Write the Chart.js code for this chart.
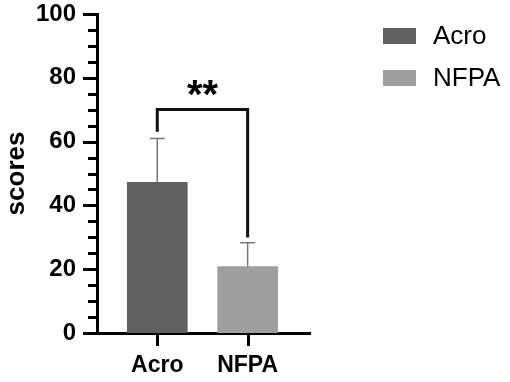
<!DOCTYPE html>
<html>
<head>
<meta charset="utf-8">
<script src="https://cdn.jsdelivr.net/npm/chart.js@4.4.0/dist/chart.umd.min.js"></script>
<style>
  html, body { margin: 0; padding: 0; background: #fff; }
</style>
</head>
<body>
<canvas id="chart" width="510" height="382"></canvas>
<script>
// groups, means and the upper SD
const categories = ['Acro', 'NFPA'];
const means = [47.2, 20.8];
const errors = [13.8, 7.5];
const barColors = ['#606060', '#9e9ea0'];
const yMajor = [0, 20, 40, 60, 80, 100];
const yMinorStep = 5;

// significance bracket between the two groups
const sigLabel = '**';
const sigTop = 70.1;
const sigLegEnds = [63.1, 29.9];

const FONT = '"Liberation Sans", Arial, sans-serif';
const X_MIN = 0.333, X_MAX = 2.69;

// error bars, bracket, tick marks and legend
const decor = {
  id: 'decor',
  afterDatasetsDraw(chart) {
    const ctx = chart.ctx;
    const xs = chart.scales.x, ys = chart.scales.y;
    ctx.save();

    // error bars (upper only)
    ctx.strokeStyle = '#777';
    ctx.lineWidth = 1.5;
    categories.forEach((c, i) => {
      const x = xs.getPixelForValue(i + 1);
      const y0 = ys.getPixelForValue(means[i]);
      const y1 = ys.getPixelForValue(means[i] + errors[i]);
      ctx.beginPath();
      ctx.moveTo(x, y0);
      ctx.lineTo(x, y1);
      ctx.moveTo(x - 7.5, y1);
      ctx.lineTo(x + 7.5, y1);
      ctx.stroke();
    });

    // bracket
    const xa = xs.getPixelForValue(1), xb = xs.getPixelForValue(2);
    const yt = ys.getPixelForValue(sigTop);
    ctx.strokeStyle = '#111';
    ctx.lineWidth = 3;
    ctx.lineJoin = 'miter';
    ctx.beginPath();
    ctx.moveTo(xa, ys.getPixelForValue(sigLegEnds[0]));
    ctx.lineTo(xa, yt);
    ctx.lineTo(xb, yt);
    ctx.lineTo(xb, ys.getPixelForValue(sigLegEnds[1]));
    ctx.stroke();

    ctx.fillStyle = '#000';
    ctx.font = 'bold 40px ' + FONT;
    ctx.textAlign = 'center';
    ctx.textBaseline = 'alphabetic';
    ctx.fillText(sigLabel, (xa + xb) / 2, yt - 1);
    ctx.restore();
  },
  afterDraw(chart) {
    const ctx = chart.ctx;
    const xs = chart.scales.x, ys = chart.scales.y;
    const left = chart.chartArea.left, bottom = chart.chartArea.bottom;
    ctx.save();
    ctx.strokeStyle = '#000';
    ctx.lineWidth = 3;
    ctx.beginPath();
    for (let v = 0; v <= 100; v += yMinorStep) {
      const y = Math.round(ys.getPixelForValue(v)) + 0.5;
      const len = yMajor.includes(v) ? 14 : 9;
      ctx.moveTo(left - len, y);
      ctx.lineTo(left, y);
    }
    categories.forEach((c, i) => {
      const x = Math.round(xs.getPixelForValue(i + 1)) + 0.5;
      ctx.moveTo(x, bottom);
      ctx.lineTo(x, bottom + 13);
    });
    ctx.stroke();

    // legend
    ctx.font = '26px ' + FONT;
    ctx.textAlign = 'left';
    ctx.textBaseline = 'middle';
    categories.forEach((c, i) => {
      const y = 28 + i * 42;
      ctx.fillStyle = barColors[i];
      ctx.fillRect(383, y, 33, 16);
      ctx.fillStyle = '#000';
      ctx.fillText(c, 433, y + 9);
    });
    ctx.restore();
  }
};

new Chart(document.getElementById('chart'), {
  type: 'bar',
  data: {
    datasets: categories.map((c, i) => ({
      label: c,
      data: [{ x: i + 1, y: means[i] }],
      backgroundColor: barColors[i],
      barThickness: 60,
      grouped: false
    }))
  },
  options: {
    responsive: false,
    devicePixelRatio: 1,
    animation: false,
    layout: { padding: { top: 14, right: 200, bottom: 0, left: 0 } },
    plugins: { legend: { display: false }, tooltip: { enabled: false } },
    scales: {
      x: {
        type: 'linear',
        offset: false,
        bounds: 'data',
        min: X_MIN,
        max: X_MAX,
        grid: { display: false, offset: false },
        border: { display: true, width: 3, color: '#000' },
        afterBuildTicks: s => {
          s.ticks = categories.map((c, i) => ({ value: i + 1 }));
          s.min = X_MIN;
          s.max = X_MAX;
        },
        afterFit: s => { s.height = 49; },
        ticks: {
          padding: 11,
          color: '#000',
          font: { family: FONT, size: 23, weight: 'bold' },
          callback: v => categories[v - 1]
        }
      },
      y: {
        min: 0,
        max: 100,
        grid: { display: false },
        border: { display: true, width: 3, color: '#000' },
        afterBuildTicks: s => { s.ticks = yMajor.map(v => ({ value: v })); },
        afterFit: s => { s.width = 97; s.paddingTop = 0; s.paddingBottom = 0; },
        ticks: {
          padding: 13,
          color: '#000',
          font: { family: FONT, size: 24, weight: 'bold' }
        },
        title: {
          display: true,
          text: 'scores',
          color: '#000',
          font: { family: FONT, size: 26, weight: 'bold' },
          padding: { top: 1, bottom: 0 }
        }
      }
    }
  },
  plugins: [decor]
});
</script>
</body>
</html>
